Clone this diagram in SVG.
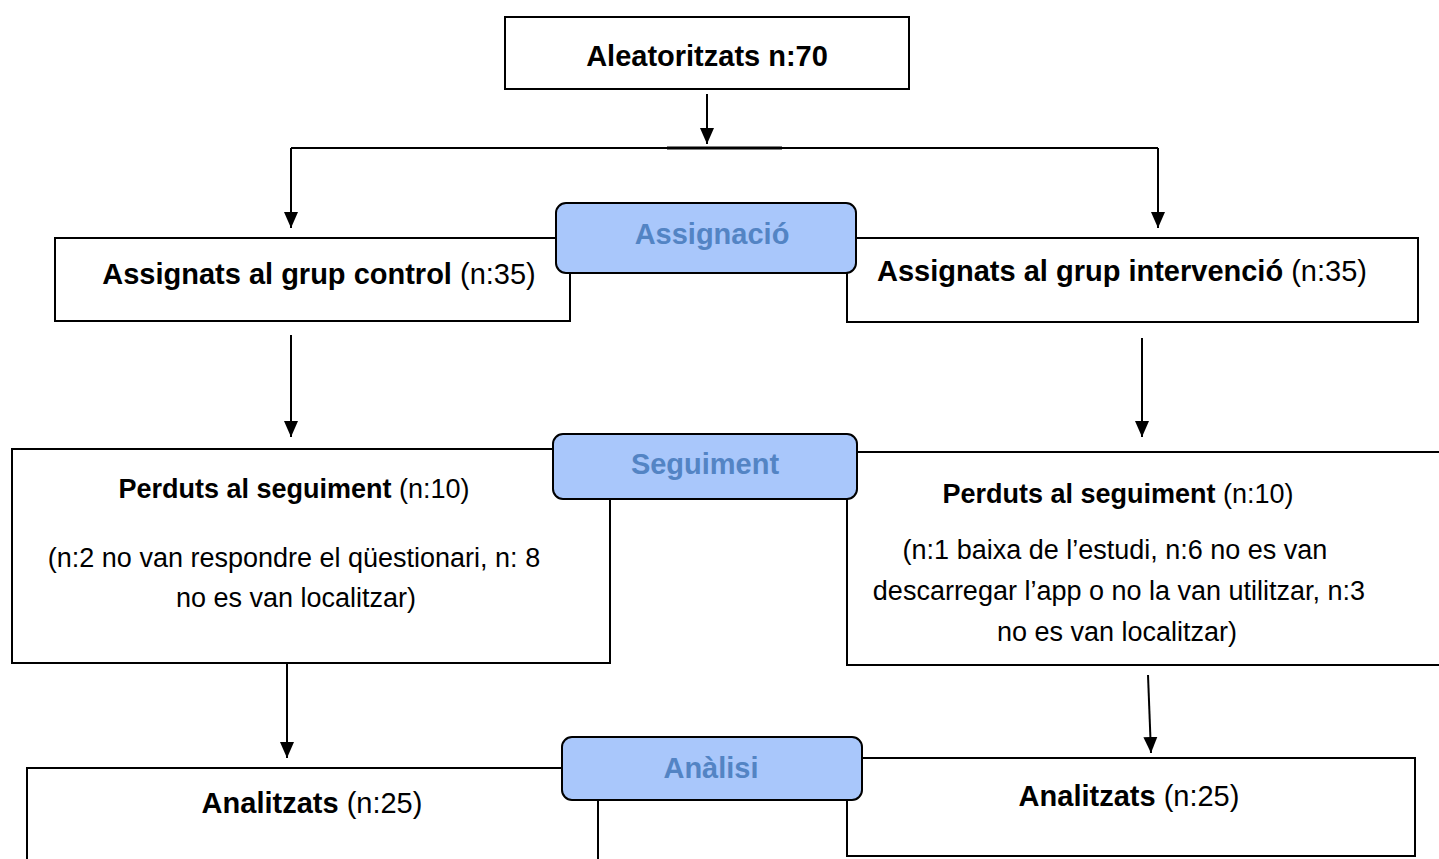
<svg xmlns="http://www.w3.org/2000/svg" width="1439" height="859" viewBox="0 0 1439 859">
<defs>
<marker id="ah" markerUnits="userSpaceOnUse" markerWidth="16" markerHeight="16" viewBox="0 0 16 16" refX="16" refY="8" orient="auto">
<path d="M0,1 L16,8 L0,15 Z" fill="#000"/>
</marker>
</defs>
<style>
.box{fill:#fff;stroke:#000;stroke-width:2}
.pill{fill:#a9c7fb;stroke:#000;stroke-width:2}
.t{font-family:"Liberation Sans",Arial,sans-serif;fill:#000;text-anchor:middle}
.b{font-weight:bold}
.p{font-family:"Liberation Sans",Arial,sans-serif;font-weight:bold;fill:#5384c4;text-anchor:middle;font-size:29px}
.c{fill:none;stroke:#000;stroke-width:2}
.a{marker-end:url(#ah)}
</style>
<rect width="1439" height="859" fill="#fff"/>
<g id="connectors">
<path class="c a" d="M707,94 L707,144"/>
<path class="c" d="M291,148 L1158,148"/>
<path d="M667,148 L782,148" stroke="#000" stroke-width="3"/>
<path class="c a" d="M291,148 L291,228"/>
<path class="c a" d="M1158,148 L1158,228"/>
<path class="c a" d="M291,335 L291,437"/>
<path class="c a" d="M1142,338 L1142,437"/>
<path class="c a" d="M287,663 L287,758"/>
<path class="c a" d="M1148,675 L1151,753"/>
</g>
<g id="n-aleatoritzats">
<rect class="box" x="505" y="17" width="404" height="72"/>
<text class="t b" x="707" y="65.5" font-size="29">Aleatoritzats n:70</text>
</g>
<g id="n-control">
<rect class="box" x="55" y="238" width="515" height="83"/>
<text class="t" x="319" y="284" font-size="29"><tspan font-weight="bold">Assignats al grup control</tspan> (n:35)</text>
</g>
<g id="n-intervencio">
<rect class="box" x="847" y="238" width="571" height="84"/>
<text class="t" x="1122" y="281" font-size="29"><tspan font-weight="bold">Assignats al grup intervenció</tspan> (n:35)</text>
</g>
<g id="n-assignacio">
<rect class="pill" x="556" y="203" width="300" height="70" rx="10"/>
<text class="p" x="712" y="244">Assignació</text>
</g>
<g id="n-perduts-control">
<rect class="box" x="12" y="449" width="598" height="214"/>
<text class="t" x="294" y="498" font-size="27"><tspan font-weight="bold">Perduts al seguiment</tspan> (n:10)</text>
<text class="t" x="294" y="567" font-size="27">(n:2 no van respondre el qüestionari, n: 8</text>
<text class="t" x="296" y="607" font-size="27">no es van localitzar)</text>
</g>
<g id="n-perduts-intervencio">
<rect class="box" x="847" y="452" width="600" height="213"/>
<text class="t" x="1118" y="503" font-size="27"><tspan font-weight="bold">Perduts al seguiment</tspan> (n:10)</text>
<text class="t" x="1115" y="559" font-size="27">(n:1 baixa de l’estudi, n:6 no es van</text>
<text class="t" x="1119" y="600" font-size="27">descarregar l’app o no la van utilitzar, n:3</text>
<text class="t" x="1117" y="641" font-size="27">no es van localitzar)</text>
</g>
<g id="n-seguiment">
<rect class="pill" x="553" y="434" width="304" height="65" rx="10"/>
<text class="p" x="705" y="474">Seguiment</text>
</g>
<g id="n-analitzats-control">
<rect class="box" x="27" y="768" width="571" height="110"/>
<text class="t" x="312" y="813" font-size="29"><tspan font-weight="bold">Analitzats</tspan> (n:25)</text>
</g>
<g id="n-analitzats-intervencio">
<rect class="box" x="847" y="758" width="568" height="98"/>
<text class="t" x="1129" y="806" font-size="29"><tspan font-weight="bold">Analitzats</tspan> (n:25)</text>
</g>
<g id="n-analisi">
<rect class="pill" x="562" y="737" width="300" height="63" rx="10"/>
<text class="p" x="711" y="778">Anàlisi</text>
</g>
</svg>
